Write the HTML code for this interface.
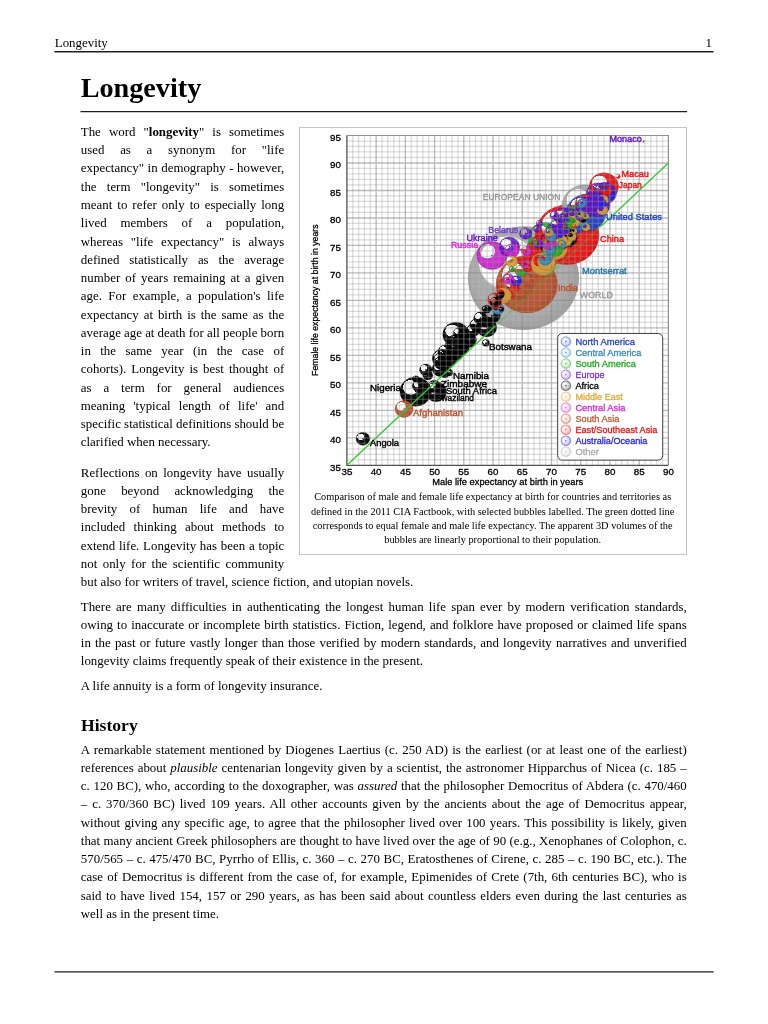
<!DOCTYPE html>
<html><head><meta charset="utf-8"><title>Longevity</title>
<style>
html,body{margin:0;padding:0;background:#fff;}
body{will-change:transform;width:768px;height:1024px;position:relative;overflow:hidden;font-family:"Liberation Serif",serif;color:#000;}
.l{position:absolute;font-size:12.9px;line-height:18.24px;height:18.24px;white-space:nowrap;}
.hdr{position:absolute;font-size:12.9px;line-height:14px;top:36.4px;}
.rule{position:absolute;background:#000;}
h1{position:absolute;margin:0;left:80.7px;top:71.2px;font-size:28.2px;line-height:34px;font-weight:bold;}
h2{position:absolute;margin:0;left:81px;top:715px;font-size:17.6px;line-height:20px;font-weight:bold;}
.fig{position:absolute;left:299px;top:126.5px;width:386.2px;height:426.4px;border:1px solid #c4c4c4;background:#fefefe;box-sizing:content-box;}
.cap{position:absolute;left:299.2px;width:387px;text-align:center;font-size:10.35px;line-height:14px;white-space:nowrap;}
svg text{font-family:"Liberation Sans",sans-serif;}
.tk{font-size:9.4px;fill:#000;stroke:#000;stroke-width:.3px}
.ax{font-size:9.2px;fill:#000;stroke:#000;stroke-width:.28px}
.lb{font-size:9.6px;stroke-width:.4px}
.lg{font-size:9.4px;stroke-width:.3px}
</style></head><body>
<div class="hdr" style="left:54.8px">Longevity</div>
<div class="hdr" style="left:700px;width:12px;text-align:right">1</div>
<svg width="768" height="1024" viewBox="0 0 768 1024" style="position:absolute;left:0;top:0"><g stroke="#202020" fill="none"><path d="M54.4 51.8H713.6" stroke-width="1.4"/><path d="M80.5 111.5H687.1" stroke-width="1.25"/><path d="M54.5 971.9H713.6" stroke-width="1.4"/></g></svg>
<h1>Longevity</h1>
<div class="fig"></div>
<svg width="768" height="1024" viewBox="0 0 768 1024" style="position:absolute;left:0;top:0">
<defs>
<radialGradient id="gNA" cx=".5" cy=".5" r=".5" fx=".2" fy=".2"><stop offset=".485" stop-color="#2244cc" stop-opacity="0"/><stop offset=".515" stop-color="#2244cc" stop-opacity=".93"/><stop offset=".85" stop-color="#2244cc" stop-opacity=".96"/><stop offset="1" stop-color="#1f3fbd" stop-opacity=".98"/></radialGradient>
<radialGradient id="gCA" cx=".5" cy=".5" r=".5" fx=".2" fy=".2"><stop offset=".485" stop-color="#3388bb" stop-opacity="0"/><stop offset=".515" stop-color="#3388bb" stop-opacity=".93"/><stop offset=".85" stop-color="#3388bb" stop-opacity=".96"/><stop offset="1" stop-color="#2f7ead" stop-opacity=".98"/></radialGradient>
<radialGradient id="gSA" cx=".5" cy=".5" r=".5" fx=".2" fy=".2"><stop offset=".485" stop-color="#22aa22" stop-opacity="0"/><stop offset=".515" stop-color="#22aa22" stop-opacity=".93"/><stop offset=".85" stop-color="#22aa22" stop-opacity=".96"/><stop offset="1" stop-color="#1f9e1f" stop-opacity=".98"/></radialGradient>
<radialGradient id="gEU" cx=".5" cy=".5" r=".5" fx=".2" fy=".2"><stop offset=".485" stop-color="#6418d2" stop-opacity="0"/><stop offset=".515" stop-color="#6418d2" stop-opacity=".93"/><stop offset=".85" stop-color="#6418d2" stop-opacity=".96"/><stop offset="1" stop-color="#5d16c3" stop-opacity=".98"/></radialGradient>
<radialGradient id="gAF" cx=".5" cy=".5" r=".5" fx=".2" fy=".2"><stop offset=".485" stop-color="#000000" stop-opacity="0"/><stop offset=".515" stop-color="#000000" stop-opacity=".93"/><stop offset=".85" stop-color="#000000" stop-opacity=".96"/><stop offset="1" stop-color="#000000" stop-opacity=".98"/></radialGradient>
<radialGradient id="gME" cx=".5" cy=".5" r=".5" fx=".2" fy=".2"><stop offset=".485" stop-color="#d9a030" stop-opacity="0"/><stop offset=".515" stop-color="#d9a030" stop-opacity=".93"/><stop offset=".85" stop-color="#d9a030" stop-opacity=".96"/><stop offset="1" stop-color="#c9942c" stop-opacity=".98"/></radialGradient>
<radialGradient id="gCS" cx=".5" cy=".5" r=".5" fx=".2" fy=".2"><stop offset=".485" stop-color="#cf22cf" stop-opacity="0"/><stop offset=".515" stop-color="#cf22cf" stop-opacity=".93"/><stop offset=".85" stop-color="#cf22cf" stop-opacity=".96"/><stop offset="1" stop-color="#c01fc0" stop-opacity=".98"/></radialGradient>
<radialGradient id="gSS" cx=".5" cy=".5" r=".5" fx=".2" fy=".2"><stop offset=".485" stop-color="#bf5028" stop-opacity="0"/><stop offset=".515" stop-color="#bf5028" stop-opacity=".93"/><stop offset=".85" stop-color="#bf5028" stop-opacity=".96"/><stop offset="1" stop-color="#b14a25" stop-opacity=".98"/></radialGradient>
<radialGradient id="gEA" cx=".5" cy=".5" r=".5" fx=".2" fy=".2"><stop offset=".485" stop-color="#f01010" stop-opacity="0"/><stop offset=".515" stop-color="#f01010" stop-opacity=".93"/><stop offset=".85" stop-color="#f01010" stop-opacity=".96"/><stop offset="1" stop-color="#df0e0e" stop-opacity=".98"/></radialGradient>
<radialGradient id="gOC" cx=".5" cy=".5" r=".5" fx=".2" fy=".2"><stop offset=".485" stop-color="#2222ee" stop-opacity="0"/><stop offset=".515" stop-color="#2222ee" stop-opacity=".93"/><stop offset=".85" stop-color="#2222ee" stop-opacity=".96"/><stop offset="1" stop-color="#1f1fdd" stop-opacity=".98"/></radialGradient>
<radialGradient id="gOT" cx=".5" cy=".5" r=".5" fx=".2" fy=".2"><stop offset=".485" stop-color="#aaaaaa" stop-opacity="0"/><stop offset=".515" stop-color="#aaaaaa" stop-opacity=".93"/><stop offset=".85" stop-color="#aaaaaa" stop-opacity=".96"/><stop offset="1" stop-color="#9e9e9e" stop-opacity=".98"/></radialGradient>
<radialGradient id="lNA" cx=".5" cy=".5" r=".5" fx=".3" fy=".3"><stop offset=".3" stop-color="#2244cc" stop-opacity=".04"/><stop offset=".75" stop-color="#2244cc" stop-opacity=".2"/><stop offset="1" stop-color="#2244cc" stop-opacity=".55"/></radialGradient>
<radialGradient id="lCA" cx=".5" cy=".5" r=".5" fx=".3" fy=".3"><stop offset=".3" stop-color="#3388bb" stop-opacity=".04"/><stop offset=".75" stop-color="#3388bb" stop-opacity=".2"/><stop offset="1" stop-color="#3388bb" stop-opacity=".55"/></radialGradient>
<radialGradient id="lSA" cx=".5" cy=".5" r=".5" fx=".3" fy=".3"><stop offset=".3" stop-color="#22aa22" stop-opacity=".04"/><stop offset=".75" stop-color="#22aa22" stop-opacity=".2"/><stop offset="1" stop-color="#22aa22" stop-opacity=".55"/></radialGradient>
<radialGradient id="lEU" cx=".5" cy=".5" r=".5" fx=".3" fy=".3"><stop offset=".3" stop-color="#6418d2" stop-opacity=".04"/><stop offset=".75" stop-color="#6418d2" stop-opacity=".2"/><stop offset="1" stop-color="#6418d2" stop-opacity=".55"/></radialGradient>
<radialGradient id="lAF" cx=".5" cy=".5" r=".5" fx=".3" fy=".3"><stop offset=".3" stop-color="#000000" stop-opacity=".04"/><stop offset=".75" stop-color="#000000" stop-opacity=".2"/><stop offset="1" stop-color="#000000" stop-opacity=".55"/></radialGradient>
<radialGradient id="lME" cx=".5" cy=".5" r=".5" fx=".3" fy=".3"><stop offset=".3" stop-color="#d9a030" stop-opacity=".04"/><stop offset=".75" stop-color="#d9a030" stop-opacity=".2"/><stop offset="1" stop-color="#d9a030" stop-opacity=".55"/></radialGradient>
<radialGradient id="lCS" cx=".5" cy=".5" r=".5" fx=".3" fy=".3"><stop offset=".3" stop-color="#cf22cf" stop-opacity=".04"/><stop offset=".75" stop-color="#cf22cf" stop-opacity=".2"/><stop offset="1" stop-color="#cf22cf" stop-opacity=".55"/></radialGradient>
<radialGradient id="lSS" cx=".5" cy=".5" r=".5" fx=".3" fy=".3"><stop offset=".3" stop-color="#bf5028" stop-opacity=".04"/><stop offset=".75" stop-color="#bf5028" stop-opacity=".2"/><stop offset="1" stop-color="#bf5028" stop-opacity=".55"/></radialGradient>
<radialGradient id="lEA" cx=".5" cy=".5" r=".5" fx=".3" fy=".3"><stop offset=".3" stop-color="#f01010" stop-opacity=".04"/><stop offset=".75" stop-color="#f01010" stop-opacity=".2"/><stop offset="1" stop-color="#f01010" stop-opacity=".55"/></radialGradient>
<radialGradient id="lOC" cx=".5" cy=".5" r=".5" fx=".3" fy=".3"><stop offset=".3" stop-color="#2222ee" stop-opacity=".04"/><stop offset=".75" stop-color="#2222ee" stop-opacity=".2"/><stop offset="1" stop-color="#2222ee" stop-opacity=".55"/></radialGradient>
<radialGradient id="lOT" cx=".5" cy=".5" r=".5" fx=".3" fy=".3"><stop offset=".3" stop-color="#aaaaaa" stop-opacity=".04"/><stop offset=".75" stop-color="#aaaaaa" stop-opacity=".2"/><stop offset="1" stop-color="#aaaaaa" stop-opacity=".55"/></radialGradient>
<clipPath id="pc"><rect x="300" y="127" width="387" height="360"/></clipPath>
</defs>
<rect x="303" y="129.5" width="381.5" height="358" fill="#fff"/>
<filter id="bl" x="-5%" y="-5%" width="110%" height="110%"><feGaussianBlur stdDeviation="0.45"/></filter>
<g clip-path="url(#pc)" filter="url(#bl)">
<ellipse cx="523.5" cy="278.1" rx="55.57" ry="51.97" fill="url(#gOT)"/>
<circle cx="523.5" cy="278.1" r=".75" fill="#555555"/>
<ellipse cx="567.2" cy="234.8" rx="32.11" ry="30.03" fill="url(#gEA)"/>
<circle cx="567.2" cy="234.8" r=".75" fill="#780808"/>
<ellipse cx="526.8" cy="284.2" rx="30.88" ry="28.88" fill="url(#gSS)"/>
<circle cx="526.8" cy="284.2" r=".75" fill="#5f2814"/>
<ellipse cx="585.0" cy="206.3" rx="23.01" ry="21.52" fill="url(#gOT)" stroke="#666666" stroke-opacity=".55" stroke-width=".6"/>
<circle cx="585.0" cy="206.3" r=".75" fill="#555555"/>
<ellipse cx="586.1" cy="212.8" rx="19.79" ry="18.51" fill="url(#gNA)" stroke="#14287a" stroke-opacity=".55" stroke-width=".6"/>
<circle cx="586.1" cy="212.8" r=".75" fill="#112266"/>
<ellipse cx="544.5" cy="251.0" rx="18.25" ry="17.07" fill="url(#gEA)" stroke="#900909" stroke-opacity=".55" stroke-width=".6"/>
<circle cx="544.5" cy="251.0" r=".75" fill="#780808"/>
<ellipse cx="545.5" cy="238.5" rx="17.14" ry="16.03" fill="url(#gSA)" stroke="#146614" stroke-opacity=".55" stroke-width=".6"/>
<circle cx="545.5" cy="238.5" r=".75" fill="#115511"/>
<ellipse cx="517.5" cy="284.5" rx="16.68" ry="15.60" fill="url(#gSS)" stroke="#723018" stroke-opacity=".55" stroke-width=".6"/>
<circle cx="517.5" cy="284.5" r=".75" fill="#5f2814"/>
<ellipse cx="539.4" cy="263.8" rx="15.78" ry="14.76" fill="url(#gSS)" stroke="#723018" stroke-opacity=".55" stroke-width=".6"/>
<circle cx="539.4" cy="263.8" r=".75" fill="#5f2814"/>
<ellipse cx="415.6" cy="391.6" rx="15.67" ry="14.65" fill="url(#gAF)" stroke="#000000" stroke-opacity=".55" stroke-width=".6"/>
<circle cx="415.6" cy="391.6" r=".75" fill="#000000"/>
<ellipse cx="491.9" cy="255.5" rx="15.09" ry="14.11" fill="url(#gCS)" stroke="#7c147c" stroke-opacity=".55" stroke-width=".6"/>
<circle cx="491.9" cy="255.5" r=".75" fill="#671167"/>
<ellipse cx="603.9" cy="186.5" rx="14.63" ry="13.68" fill="url(#gEA)" stroke="#900909" stroke-opacity=".55" stroke-width=".6"/>
<circle cx="603.9" cy="186.5" r=".75" fill="#780808"/>
<ellipse cx="572.8" cy="221.1" rx="14.12" ry="13.21" fill="url(#gNA)" stroke="#14287a" stroke-opacity=".55" stroke-width=".6"/>
<circle cx="572.8" cy="221.1" r=".75" fill="#112266"/>
<ellipse cx="544.0" cy="246.9" rx="13.61" ry="12.73" fill="url(#gEA)" stroke="#900909" stroke-opacity=".55" stroke-width=".6"/>
<circle cx="544.0" cy="246.9" r=".75" fill="#780808"/>
<ellipse cx="455.9" cy="334.4" rx="13.11" ry="12.26" fill="url(#gAF)" stroke="#000000" stroke-opacity=".55" stroke-width=".6"/>
<circle cx="455.9" cy="334.4" r=".75" fill="#000000"/>
<ellipse cx="549.9" cy="245.9" rx="13.09" ry="12.24" fill="url(#gEA)" stroke="#900909" stroke-opacity=".55" stroke-width=".6"/>
<circle cx="549.9" cy="245.9" r=".75" fill="#780808"/>
<ellipse cx="551.9" cy="243.3" rx="12.67" ry="11.85" fill="url(#gAF)" stroke="#000000" stroke-opacity=".55" stroke-width=".6"/>
<circle cx="551.9" cy="243.3" r=".75" fill="#000000"/>
<ellipse cx="597.2" cy="204.5" rx="12.64" ry="11.82" fill="url(#gEU)" stroke="#3c0e7e" stroke-opacity=".55" stroke-width=".6"/>
<circle cx="597.2" cy="204.5" r=".75" fill="#320c69"/>
<ellipse cx="555.1" cy="248.2" rx="12.50" ry="11.69" fill="url(#gME)" stroke="#82601c" stroke-opacity=".55" stroke-width=".6"/>
<circle cx="555.1" cy="248.2" r=".75" fill="#6c5018"/>
<ellipse cx="543.2" cy="264.1" rx="12.45" ry="11.64" fill="url(#gME)" stroke="#82601c" stroke-opacity=".55" stroke-width=".6"/>
<circle cx="543.2" cy="264.1" r=".75" fill="#6c5018"/>
<ellipse cx="457.4" cy="345.5" rx="12.11" ry="11.32" fill="url(#gAF)" stroke="#000000" stroke-opacity=".55" stroke-width=".6"/>
<circle cx="457.4" cy="345.5" r=".75" fill="#000000"/>
<ellipse cx="558.7" cy="239.5" rx="11.82" ry="11.06" fill="url(#gEA)" stroke="#900909" stroke-opacity=".55" stroke-width=".6"/>
<circle cx="558.7" cy="239.5" r=".75" fill="#780808"/>
<ellipse cx="597.7" cy="194.0" rx="11.74" ry="10.98" fill="url(#gEU)" stroke="#3c0e7e" stroke-opacity=".55" stroke-width=".6"/>
<circle cx="597.7" cy="194.0" r=".75" fill="#320c69"/>
<ellipse cx="598.0" cy="205.6" rx="11.58" ry="10.83" fill="url(#gEU)" stroke="#3c0e7e" stroke-opacity=".55" stroke-width=".6"/>
<circle cx="598.0" cy="205.6" r=".75" fill="#320c69"/>
<ellipse cx="605.0" cy="193.1" rx="11.47" ry="10.73" fill="url(#gEU)" stroke="#3c0e7e" stroke-opacity=".55" stroke-width=".6"/>
<circle cx="605.0" cy="193.1" r=".75" fill="#320c69"/>
<ellipse cx="508.1" cy="287.6" rx="11.02" ry="10.30" fill="url(#gEA)" stroke="#900909" stroke-opacity=".55" stroke-width=".6"/>
<circle cx="508.1" cy="287.6" r=".75" fill="#780808"/>
<ellipse cx="436.0" cy="391.7" rx="10.67" ry="9.98" fill="url(#gAF)" stroke="#000000" stroke-opacity=".55" stroke-width=".6"/>
<circle cx="436.0" cy="391.7" r=".75" fill="#000000"/>
<ellipse cx="585.6" cy="204.3" rx="10.65" ry="9.96" fill="url(#gEA)" stroke="#900909" stroke-opacity=".55" stroke-width=".6"/>
<circle cx="585.6" cy="204.3" r=".75" fill="#780808"/>
<ellipse cx="599.2" cy="193.9" rx="10.50" ry="9.82" fill="url(#gEU)" stroke="#3c0e7e" stroke-opacity=".55" stroke-width=".6"/>
<circle cx="599.2" cy="193.9" r=".75" fill="#320c69"/>
<ellipse cx="509.3" cy="246.8" rx="10.38" ry="9.70" fill="url(#gEU)" stroke="#3c0e7e" stroke-opacity=".55" stroke-width=".6"/>
<circle cx="509.3" cy="246.8" r=".75" fill="#320c69"/>
<ellipse cx="459.0" cy="346.0" rx="10.37" ry="9.70" fill="url(#gAF)" stroke="#000000" stroke-opacity=".55" stroke-width=".6"/>
<circle cx="459.0" cy="346.0" r=".75" fill="#000000"/>
<ellipse cx="558.9" cy="228.8" rx="10.35" ry="9.67" fill="url(#gSA)" stroke="#146614" stroke-opacity=".55" stroke-width=".6"/>
<circle cx="558.9" cy="228.8" r=".75" fill="#115511"/>
<ellipse cx="442.4" cy="358.6" rx="10.19" ry="9.53" fill="url(#gAF)" stroke="#000000" stroke-opacity=".55" stroke-width=".6"/>
<circle cx="442.4" cy="358.6" r=".75" fill="#000000"/>
<ellipse cx="573.2" cy="216.0" rx="10.12" ry="9.46" fill="url(#gSA)" stroke="#146614" stroke-opacity=".55" stroke-width=".6"/>
<circle cx="573.2" cy="216.0" r=".75" fill="#115511"/>
<ellipse cx="486.7" cy="327.5" rx="10.06" ry="9.41" fill="url(#gAF)" stroke="#000000" stroke-opacity=".55" stroke-width=".6"/>
<circle cx="486.7" cy="327.5" r=".75" fill="#000000"/>
<ellipse cx="563.8" cy="216.6" rx="9.83" ry="9.20" fill="url(#gEU)" stroke="#3c0e7e" stroke-opacity=".55" stroke-width=".6"/>
<circle cx="563.8" cy="216.6" r=".75" fill="#320c69"/>
<ellipse cx="567.7" cy="238.2" rx="9.54" ry="8.92" fill="url(#gAF)" stroke="#000000" stroke-opacity=".55" stroke-width=".6"/>
<circle cx="567.7" cy="238.2" r=".75" fill="#000000"/>
<ellipse cx="447.3" cy="359.0" rx="9.50" ry="8.88" fill="url(#gAF)" stroke="#000000" stroke-opacity=".55" stroke-width=".6"/>
<circle cx="447.3" cy="359.0" r=".75" fill="#000000"/>
<ellipse cx="603.0" cy="195.4" rx="9.44" ry="8.83" fill="url(#gNA)" stroke="#14287a" stroke-opacity=".55" stroke-width=".6"/>
<circle cx="603.0" cy="195.4" r=".75" fill="#112266"/>
<ellipse cx="568.1" cy="222.8" rx="9.25" ry="8.65" fill="url(#gAF)" stroke="#000000" stroke-opacity=".55" stroke-width=".6"/>
<circle cx="568.1" cy="222.8" r=".75" fill="#000000"/>
<ellipse cx="546.5" cy="261.8" rx="9.10" ry="8.51" fill="url(#gME)" stroke="#82601c" stroke-opacity=".55" stroke-width=".6"/>
<circle cx="546.5" cy="261.8" r=".75" fill="#6c5018"/>
<ellipse cx="404.1" cy="409.0" rx="9.04" ry="8.45" fill="url(#gSS)" stroke="#723018" stroke-opacity=".55" stroke-width=".6"/>
<circle cx="404.1" cy="409.0" r=".75" fill="#5f2814"/>
<ellipse cx="520.0" cy="289.1" rx="9.00" ry="8.41" fill="url(#gSS)" stroke="#723018" stroke-opacity=".55" stroke-width=".6"/>
<circle cx="520.0" cy="289.1" r=".75" fill="#5f2814"/>
<ellipse cx="554.7" cy="248.3" rx="8.98" ry="8.39" fill="url(#gSA)" stroke="#146614" stroke-opacity=".55" stroke-width=".6"/>
<circle cx="554.7" cy="248.3" r=".75" fill="#115511"/>
<ellipse cx="557.6" cy="235.9" rx="8.92" ry="8.35" fill="url(#gEA)" stroke="#900909" stroke-opacity=".55" stroke-width=".6"/>
<circle cx="557.6" cy="235.9" r=".75" fill="#780808"/>
<ellipse cx="548.5" cy="241.5" rx="8.86" ry="8.29" fill="url(#gCS)" stroke="#7c147c" stroke-opacity=".55" stroke-width=".6"/>
<circle cx="548.5" cy="241.5" r=".75" fill="#671167"/>
<ellipse cx="556.4" cy="233.5" rx="8.81" ry="8.24" fill="url(#gSA)" stroke="#146614" stroke-opacity=".55" stroke-width=".6"/>
<circle cx="556.4" cy="233.5" r=".75" fill="#115511"/>
<ellipse cx="564.1" cy="239.1" rx="8.65" ry="8.09" fill="url(#gME)" stroke="#82601c" stroke-opacity=".55" stroke-width=".6"/>
<circle cx="564.1" cy="239.1" r=".75" fill="#6c5018"/>
<ellipse cx="491.8" cy="315.5" rx="8.50" ry="7.95" fill="url(#gAF)" stroke="#000000" stroke-opacity=".55" stroke-width=".6"/>
<circle cx="491.8" cy="315.5" r=".75" fill="#000000"/>
<ellipse cx="522.4" cy="256.8" rx="8.47" ry="7.92" fill="url(#gEA)" stroke="#900909" stroke-opacity=".55" stroke-width=".6"/>
<circle cx="522.4" cy="256.8" r=".75" fill="#780808"/>
<ellipse cx="503.0" cy="295.6" rx="8.42" ry="7.87" fill="url(#gME)" stroke="#82601c" stroke-opacity=".55" stroke-width=".6"/>
<circle cx="503.0" cy="295.6" r=".75" fill="#6c5018"/>
<ellipse cx="583.6" cy="210.5" rx="8.30" ry="7.76" fill="url(#gEA)" stroke="#900909" stroke-opacity=".55" stroke-width=".6"/>
<circle cx="583.6" cy="210.5" r=".75" fill="#780808"/>
<ellipse cx="440.5" cy="368.7" rx="8.28" ry="7.74" fill="url(#gAF)" stroke="#000000" stroke-opacity=".55" stroke-width=".6"/>
<circle cx="440.5" cy="368.7" r=".75" fill="#000000"/>
<ellipse cx="565.0" cy="233.3" rx="8.23" ry="7.70" fill="url(#gME)" stroke="#82601c" stroke-opacity=".55" stroke-width=".6"/>
<circle cx="565.0" cy="233.3" r=".75" fill="#6c5018"/>
<ellipse cx="553.0" cy="232.0" rx="8.16" ry="7.63" fill="url(#gEU)" stroke="#3c0e7e" stroke-opacity=".55" stroke-width=".6"/>
<circle cx="553.0" cy="232.0" r=".75" fill="#320c69"/>
<ellipse cx="606.4" cy="194.0" rx="8.14" ry="7.62" fill="url(#gOC)" stroke="#14148e" stroke-opacity=".55" stroke-width=".6"/>
<circle cx="606.4" cy="194.0" r=".75" fill="#111177"/>
<ellipse cx="468.4" cy="339.9" rx="8.11" ry="7.58" fill="url(#gAF)" stroke="#000000" stroke-opacity=".55" stroke-width=".6"/>
<circle cx="468.4" cy="339.9" r=".75" fill="#000000"/>
<ellipse cx="564.4" cy="221.4" rx="8.08" ry="7.56" fill="url(#gSS)" stroke="#723018" stroke-opacity=".55" stroke-width=".6"/>
<circle cx="564.4" cy="221.4" r=".75" fill="#5f2814"/>
<ellipse cx="455.2" cy="353.8" rx="7.87" ry="7.36" fill="url(#gAF)" stroke="#000000" stroke-opacity=".55" stroke-width=".6"/>
<circle cx="455.2" cy="353.8" r=".75" fill="#000000"/>
<ellipse cx="577.4" cy="211.7" rx="7.48" ry="7.00" fill="url(#gSA)" stroke="#146614" stroke-opacity=".55" stroke-width=".6"/>
<circle cx="577.4" cy="211.7" r=".75" fill="#115511"/>
<ellipse cx="592.8" cy="204.5" rx="7.47" ry="6.98" fill="url(#gEU)" stroke="#3c0e7e" stroke-opacity=".55" stroke-width=".6"/>
<circle cx="592.8" cy="204.5" r=".75" fill="#320c69"/>
<ellipse cx="445.3" cy="351.9" rx="7.46" ry="6.97" fill="url(#gAF)" stroke="#000000" stroke-opacity=".55" stroke-width=".6"/>
<circle cx="445.3" cy="351.9" r=".75" fill="#000000"/>
<ellipse cx="447.0" cy="356.9" rx="7.42" ry="6.94" fill="url(#gAF)" stroke="#000000" stroke-opacity=".55" stroke-width=".6"/>
<circle cx="447.0" cy="356.9" r=".75" fill="#000000"/>
<ellipse cx="440.0" cy="369.2" rx="7.33" ry="6.85" fill="url(#gAF)" stroke="#000000" stroke-opacity=".55" stroke-width=".6"/>
<circle cx="440.0" cy="369.2" r=".75" fill="#000000"/>
<ellipse cx="512.0" cy="250.5" rx="7.27" ry="6.80" fill="url(#gCS)" stroke="#7c147c" stroke-opacity=".55" stroke-width=".6"/>
<circle cx="512.0" cy="250.5" r=".75" fill="#671167"/>
<ellipse cx="566.6" cy="225.6" rx="7.19" ry="6.72" fill="url(#gSA)" stroke="#146614" stroke-opacity=".55" stroke-width=".6"/>
<circle cx="566.6" cy="225.6" r=".75" fill="#115511"/>
<ellipse cx="494.8" cy="299.7" rx="7.14" ry="6.68" fill="url(#gEA)" stroke="#900909" stroke-opacity=".55" stroke-width=".6"/>
<circle cx="494.8" cy="299.7" r=".75" fill="#780808"/>
<ellipse cx="440.5" cy="359.4" rx="7.06" ry="6.60" fill="url(#gAF)" stroke="#000000" stroke-opacity=".55" stroke-width=".6"/>
<circle cx="440.5" cy="359.4" r=".75" fill="#000000"/>
<ellipse cx="441.2" cy="362.9" rx="7.01" ry="6.55" fill="url(#gAF)" stroke="#000000" stroke-opacity=".55" stroke-width=".6"/>
<circle cx="441.2" cy="362.9" r=".75" fill="#000000"/>
<ellipse cx="545.8" cy="257.4" rx="6.99" ry="6.54" fill="url(#gCA)" stroke="#1e5170" stroke-opacity=".55" stroke-width=".6"/>
<circle cx="545.8" cy="257.4" r=".75" fill="#19445d"/>
<ellipse cx="362.9" cy="438.8" rx="6.91" ry="6.46" fill="url(#gAF)" stroke="#000000" stroke-opacity=".55" stroke-width=".6"/>
<circle cx="362.9" cy="438.8" r=".75" fill="#000000"/>
<ellipse cx="480.5" cy="318.2" rx="6.78" ry="6.34" fill="url(#gAF)" stroke="#000000" stroke-opacity=".55" stroke-width=".6"/>
<circle cx="480.5" cy="318.2" r=".75" fill="#000000"/>
<ellipse cx="434.2" cy="386.5" rx="6.69" ry="6.25" fill="url(#gAF)" stroke="#000000" stroke-opacity=".55" stroke-width=".6"/>
<circle cx="434.2" cy="386.5" r=".75" fill="#000000"/>
<ellipse cx="473.0" cy="330.5" rx="6.55" ry="6.13" fill="url(#gAF)" stroke="#000000" stroke-opacity=".55" stroke-width=".6"/>
<circle cx="473.0" cy="330.5" r=".75" fill="#000000"/>
<ellipse cx="583.4" cy="217.5" rx="6.50" ry="6.08" fill="url(#gCA)" stroke="#1e5170" stroke-opacity=".55" stroke-width=".6"/>
<circle cx="583.4" cy="217.5" r=".75" fill="#19445d"/>
<ellipse cx="594.5" cy="203.4" rx="6.44" ry="6.02" fill="url(#gEU)" stroke="#3c0e7e" stroke-opacity=".55" stroke-width=".6"/>
<circle cx="594.5" cy="203.4" r=".75" fill="#320c69"/>
<ellipse cx="582.4" cy="207.2" rx="6.44" ry="6.02" fill="url(#gEU)" stroke="#3c0e7e" stroke-opacity=".55" stroke-width=".6"/>
<circle cx="582.4" cy="207.2" r=".75" fill="#320c69"/>
<ellipse cx="418.7" cy="386.0" rx="6.44" ry="6.02" fill="url(#gAF)" stroke="#000000" stroke-opacity=".55" stroke-width=".6"/>
<circle cx="418.7" cy="386.0" r=".75" fill="#000000"/>
<ellipse cx="569.0" cy="233.5" rx="6.40" ry="5.99" fill="url(#gAF)" stroke="#000000" stroke-opacity=".55" stroke-width=".6"/>
<circle cx="569.0" cy="233.5" r=".75" fill="#000000"/>
<ellipse cx="473.3" cy="329.9" rx="6.40" ry="5.99" fill="url(#gAF)" stroke="#000000" stroke-opacity=".55" stroke-width=".6"/>
<circle cx="473.3" cy="329.9" r=".75" fill="#000000"/>
<ellipse cx="587.8" cy="203.2" rx="6.36" ry="5.95" fill="url(#gEU)" stroke="#3c0e7e" stroke-opacity=".55" stroke-width=".6"/>
<circle cx="587.8" cy="203.2" r=".75" fill="#320c69"/>
<ellipse cx="476.0" cy="325.0" rx="6.32" ry="5.91" fill="url(#gAF)" stroke="#000000" stroke-opacity=".55" stroke-width=".6"/>
<circle cx="476.0" cy="325.0" r=".75" fill="#000000"/>
<ellipse cx="573.4" cy="215.3" rx="6.32" ry="5.91" fill="url(#gEU)" stroke="#3c0e7e" stroke-opacity=".55" stroke-width=".6"/>
<circle cx="573.4" cy="215.3" r=".75" fill="#320c69"/>
<ellipse cx="521.3" cy="270.6" rx="6.30" ry="5.89" fill="url(#gSA)" stroke="#146614" stroke-opacity=".55" stroke-width=".6"/>
<circle cx="521.3" cy="270.6" r=".75" fill="#115511"/>
<ellipse cx="557.2" cy="224.5" rx="6.28" ry="5.87" fill="url(#gEU)" stroke="#3c0e7e" stroke-opacity=".55" stroke-width=".6"/>
<circle cx="557.2" cy="224.5" r=".75" fill="#320c69"/>
<ellipse cx="581.7" cy="220.4" rx="6.27" ry="5.87" fill="url(#gCA)" stroke="#1e5170" stroke-opacity=".55" stroke-width=".6"/>
<circle cx="581.7" cy="220.4" r=".75" fill="#19445d"/>
<ellipse cx="425.8" cy="369.8" rx="6.27" ry="5.86" fill="url(#gAF)" stroke="#000000" stroke-opacity=".55" stroke-width=".6"/>
<circle cx="425.8" cy="369.8" r=".75" fill="#000000"/>
<ellipse cx="497.7" cy="308.6" rx="6.22" ry="5.82" fill="url(#gCA)" stroke="#1e5170" stroke-opacity=".55" stroke-width=".6"/>
<circle cx="497.7" cy="308.6" r=".75" fill="#19445d"/>
<ellipse cx="525.6" cy="233.5" rx="6.19" ry="5.79" fill="url(#gEU)" stroke="#3c0e7e" stroke-opacity=".55" stroke-width=".6"/>
<circle cx="525.6" cy="233.5" r=".75" fill="#320c69"/>
<ellipse cx="484.9" cy="321.6" rx="6.14" ry="5.74" fill="url(#gAF)" stroke="#000000" stroke-opacity=".55" stroke-width=".6"/>
<circle cx="484.9" cy="321.6" r=".75" fill="#000000"/>
<ellipse cx="602.8" cy="198.7" rx="6.09" ry="5.69" fill="url(#gEU)" stroke="#3c0e7e" stroke-opacity=".55" stroke-width=".6"/>
<circle cx="602.8" cy="198.7" r=".75" fill="#320c69"/>
<ellipse cx="511.7" cy="261.4" rx="5.92" ry="5.53" fill="url(#gME)" stroke="#82601c" stroke-opacity=".55" stroke-width=".6"/>
<circle cx="511.7" cy="261.4" r=".75" fill="#6c5018"/>
<ellipse cx="591.6" cy="202.3" rx="5.88" ry="5.50" fill="url(#gEU)" stroke="#3c0e7e" stroke-opacity=".55" stroke-width=".6"/>
<circle cx="591.6" cy="202.3" r=".75" fill="#320c69"/>
<ellipse cx="545.2" cy="259.9" rx="5.86" ry="5.48" fill="url(#gCA)" stroke="#1e5170" stroke-opacity=".55" stroke-width=".6"/>
<circle cx="545.2" cy="259.9" r=".75" fill="#19445d"/>
<ellipse cx="599.7" cy="195.7" rx="5.74" ry="5.37" fill="url(#gEU)" stroke="#3c0e7e" stroke-opacity=".55" stroke-width=".6"/>
<circle cx="599.7" cy="195.7" r=".75" fill="#320c69"/>
<ellipse cx="508.4" cy="279.0" rx="5.74" ry="5.37" fill="url(#gCS)" stroke="#7c147c" stroke-opacity=".55" stroke-width=".6"/>
<circle cx="508.4" cy="279.0" r=".75" fill="#671167"/>
<ellipse cx="602.9" cy="200.1" rx="5.70" ry="5.33" fill="url(#gME)" stroke="#82601c" stroke-opacity=".55" stroke-width=".6"/>
<circle cx="602.9" cy="200.1" r=".75" fill="#6c5018"/>
<ellipse cx="560.2" cy="232.6" rx="5.66" ry="5.29" fill="url(#gEU)" stroke="#3c0e7e" stroke-opacity=".55" stroke-width=".6"/>
<circle cx="560.2" cy="232.6" r=".75" fill="#320c69"/>
<ellipse cx="606.0" cy="190.6" rx="5.61" ry="5.24" fill="url(#gEA)" stroke="#900909" stroke-opacity=".55" stroke-width=".6"/>
<circle cx="606.0" cy="190.6" r=".75" fill="#780808"/>
<ellipse cx="551.4" cy="232.2" rx="5.60" ry="5.24" fill="url(#gEU)" stroke="#3c0e7e" stroke-opacity=".55" stroke-width=".6"/>
<circle cx="551.4" cy="232.2" r=".75" fill="#320c69"/>
<ellipse cx="582.7" cy="217.5" rx="5.47" ry="5.11" fill="url(#gAF)" stroke="#000000" stroke-opacity=".55" stroke-width=".6"/>
<circle cx="582.7" cy="217.5" r=".75" fill="#000000"/>
<ellipse cx="602.5" cy="210.0" rx="5.44" ry="5.09" fill="url(#gME)" stroke="#82601c" stroke-opacity=".55" stroke-width=".6"/>
<circle cx="602.5" cy="210.0" r=".75" fill="#6c5018"/>
<ellipse cx="496.0" cy="303.9" rx="5.43" ry="5.08" fill="url(#gEA)" stroke="#900909" stroke-opacity=".55" stroke-width=".6"/>
<circle cx="496.0" cy="303.9" r=".75" fill="#780808"/>
<ellipse cx="572.5" cy="224.1" rx="5.43" ry="5.08" fill="url(#gSA)" stroke="#146614" stroke-opacity=".55" stroke-width=".6"/>
<circle cx="572.5" cy="224.1" r=".75" fill="#115511"/>
<ellipse cx="516.5" cy="280.8" rx="5.35" ry="5.01" fill="url(#gOC)" stroke="#14148e" stroke-opacity=".55" stroke-width=".6"/>
<circle cx="516.5" cy="280.8" r=".75" fill="#111177"/>
<ellipse cx="551.0" cy="236.5" rx="5.32" ry="4.97" fill="url(#gCA)" stroke="#1e5170" stroke-opacity=".55" stroke-width=".6"/>
<circle cx="551.0" cy="236.5" r=".75" fill="#19445d"/>
<ellipse cx="495.4" cy="302.0" rx="5.28" ry="4.94" fill="url(#gAF)" stroke="#000000" stroke-opacity=".55" stroke-width=".6"/>
<circle cx="495.4" cy="302.0" r=".75" fill="#000000"/>
<ellipse cx="550.4" cy="249.8" rx="5.20" ry="4.86" fill="url(#gCA)" stroke="#1e5170" stroke-opacity=".55" stroke-width=".6"/>
<circle cx="550.4" cy="249.8" r=".75" fill="#19445d"/>
<ellipse cx="526.6" cy="251.3" rx="5.17" ry="4.84" fill="url(#gCS)" stroke="#7c147c" stroke-opacity=".55" stroke-width=".6"/>
<circle cx="526.6" cy="251.3" r=".75" fill="#671167"/>
<ellipse cx="588.0" cy="211.7" rx="5.15" ry="4.82" fill="url(#gEU)" stroke="#3c0e7e" stroke-opacity=".55" stroke-width=".6"/>
<circle cx="588.0" cy="211.7" r=".75" fill="#320c69"/>
<ellipse cx="562.7" cy="218.3" rx="5.14" ry="4.81" fill="url(#gEU)" stroke="#3c0e7e" stroke-opacity=".55" stroke-width=".6"/>
<circle cx="562.7" cy="218.3" r=".75" fill="#320c69"/>
<ellipse cx="458.4" cy="332.8" rx="5.10" ry="4.77" fill="url(#gAF)" stroke="#000000" stroke-opacity=".55" stroke-width=".6"/>
<circle cx="458.4" cy="332.8" r=".75" fill="#000000"/>
<ellipse cx="585.3" cy="202.1" rx="5.07" ry="4.74" fill="url(#gEU)" stroke="#3c0e7e" stroke-opacity=".55" stroke-width=".6"/>
<circle cx="585.3" cy="202.1" r=".75" fill="#320c69"/>
<ellipse cx="574.7" cy="222.3" rx="5.03" ry="4.71" fill="url(#gME)" stroke="#82601c" stroke-opacity=".55" stroke-width=".6"/>
<circle cx="574.7" cy="222.3" r=".75" fill="#6c5018"/>
<ellipse cx="525.6" cy="264.0" rx="4.98" ry="4.66" fill="url(#gCS)" stroke="#7c147c" stroke-opacity=".55" stroke-width=".6"/>
<circle cx="525.6" cy="264.0" r=".75" fill="#671167"/>
<ellipse cx="427.8" cy="375.4" rx="4.97" ry="4.65" fill="url(#gAF)" stroke="#000000" stroke-opacity=".55" stroke-width=".6"/>
<circle cx="427.8" cy="375.4" r=".75" fill="#000000"/>
<ellipse cx="607.2" cy="190.7" rx="4.90" ry="4.58" fill="url(#gEA)" stroke="#900909" stroke-opacity=".55" stroke-width=".6"/>
<circle cx="607.2" cy="190.7" r=".75" fill="#780808"/>
<ellipse cx="595.5" cy="201.4" rx="4.88" ry="4.56" fill="url(#gEU)" stroke="#3c0e7e" stroke-opacity=".55" stroke-width=".6"/>
<circle cx="595.5" cy="201.4" r=".75" fill="#320c69"/>
<ellipse cx="598.0" cy="203.7" rx="4.87" ry="4.56" fill="url(#gEU)" stroke="#3c0e7e" stroke-opacity=".55" stroke-width=".6"/>
<circle cx="598.0" cy="203.7" r=".75" fill="#320c69"/>
<ellipse cx="582.5" cy="203.7" rx="4.85" ry="4.54" fill="url(#gEU)" stroke="#3c0e7e" stroke-opacity=".55" stroke-width=".6"/>
<circle cx="582.5" cy="203.7" r=".75" fill="#320c69"/>
<ellipse cx="573.2" cy="214.5" rx="4.84" ry="4.53" fill="url(#gME)" stroke="#82601c" stroke-opacity=".55" stroke-width=".6"/>
<circle cx="573.2" cy="214.5" r=".75" fill="#6c5018"/>
<ellipse cx="581.3" cy="215.2" rx="4.84" ry="4.53" fill="url(#gCA)" stroke="#1e5170" stroke-opacity=".55" stroke-width=".6"/>
<circle cx="581.3" cy="215.2" r=".75" fill="#19445d"/>
<ellipse cx="564.2" cy="220.1" rx="4.81" ry="4.49" fill="url(#gEU)" stroke="#3c0e7e" stroke-opacity=".55" stroke-width=".6"/>
<circle cx="564.2" cy="220.1" r=".75" fill="#320c69"/>
<ellipse cx="538.0" cy="243.9" rx="4.74" ry="4.44" fill="url(#gEU)" stroke="#3c0e7e" stroke-opacity=".55" stroke-width=".6"/>
<circle cx="538.0" cy="243.9" r=".75" fill="#320c69"/>
<ellipse cx="601.8" cy="203.3" rx="4.74" ry="4.43" fill="url(#gOC)" stroke="#14148e" stroke-opacity=".55" stroke-width=".6"/>
<circle cx="601.8" cy="203.3" r=".75" fill="#111177"/>
<ellipse cx="455.7" cy="348.5" rx="4.72" ry="4.41" fill="url(#gAF)" stroke="#000000" stroke-opacity=".55" stroke-width=".6"/>
<circle cx="455.7" cy="348.5" r=".75" fill="#000000"/>
<ellipse cx="571.8" cy="236.5" rx="4.68" ry="4.38" fill="url(#gME)" stroke="#82601c" stroke-opacity=".55" stroke-width=".6"/>
<circle cx="571.8" cy="236.5" r=".75" fill="#6c5018"/>
<ellipse cx="581.9" cy="203.1" rx="4.62" ry="4.32" fill="url(#gCA)" stroke="#1e5170" stroke-opacity=".55" stroke-width=".6"/>
<circle cx="581.9" cy="203.1" r=".75" fill="#19445d"/>
<ellipse cx="466.4" cy="335.6" rx="4.54" ry="4.25" fill="url(#gAF)" stroke="#000000" stroke-opacity=".55" stroke-width=".6"/>
<circle cx="466.4" cy="335.6" r=".75" fill="#000000"/>
<ellipse cx="554.4" cy="215.4" rx="4.44" ry="4.15" fill="url(#gEU)" stroke="#3c0e7e" stroke-opacity=".55" stroke-width=".6"/>
<circle cx="554.4" cy="215.4" r=".75" fill="#320c69"/>
<ellipse cx="580.7" cy="214.1" rx="4.41" ry="4.12" fill="url(#gCA)" stroke="#1e5170" stroke-opacity=".55" stroke-width=".6"/>
<circle cx="580.7" cy="214.1" r=".75" fill="#19445d"/>
<ellipse cx="569.4" cy="220.9" rx="4.34" ry="4.06" fill="url(#gSA)" stroke="#146614" stroke-opacity=".55" stroke-width=".6"/>
<circle cx="569.4" cy="220.9" r=".75" fill="#115511"/>
<ellipse cx="486.8" cy="309.1" rx="4.33" ry="4.05" fill="url(#gAF)" stroke="#000000" stroke-opacity=".55" stroke-width=".6"/>
<circle cx="486.8" cy="309.1" r=".75" fill="#000000"/>
<ellipse cx="527.2" cy="267.9" rx="4.26" ry="3.99" fill="url(#gEA)" stroke="#900909" stroke-opacity=".55" stroke-width=".6"/>
<circle cx="527.2" cy="267.9" r=".75" fill="#780808"/>
<ellipse cx="563.2" cy="239.9" rx="4.22" ry="3.94" fill="url(#gME)" stroke="#82601c" stroke-opacity=".55" stroke-width=".6"/>
<circle cx="563.2" cy="239.9" r=".75" fill="#6c5018"/>
<ellipse cx="579.7" cy="216.3" rx="4.20" ry="3.93" fill="url(#gEU)" stroke="#3c0e7e" stroke-opacity=".55" stroke-width=".6"/>
<circle cx="579.7" cy="216.3" r=".75" fill="#320c69"/>
<ellipse cx="549.1" cy="232.7" rx="4.19" ry="3.92" fill="url(#gME)" stroke="#82601c" stroke-opacity=".55" stroke-width=".6"/>
<circle cx="549.1" cy="232.7" r=".75" fill="#6c5018"/>
<ellipse cx="561.9" cy="244.3" rx="4.14" ry="3.87" fill="url(#gCA)" stroke="#1e5170" stroke-opacity=".55" stroke-width=".6"/>
<circle cx="561.9" cy="244.3" r=".75" fill="#19445d"/>
<ellipse cx="586.0" cy="227.3" rx="4.01" ry="3.75" fill="url(#gME)" stroke="#82601c" stroke-opacity=".55" stroke-width=".6"/>
<circle cx="586.0" cy="227.3" r=".75" fill="#6c5018"/>
<ellipse cx="537.2" cy="228.6" rx="3.79" ry="3.55" fill="url(#gEU)" stroke="#3c0e7e" stroke-opacity=".55" stroke-width=".6"/>
<circle cx="537.2" cy="228.6" r=".75" fill="#320c69"/>
<ellipse cx="449.0" cy="372.6" rx="3.76" ry="3.52" fill="url(#gAF)" stroke="#000000" stroke-opacity=".55" stroke-width=".6"/>
<circle cx="449.0" cy="372.6" r=".75" fill="#000000"/>
<ellipse cx="566.1" cy="230.6" rx="3.72" ry="3.48" fill="url(#gEU)" stroke="#3c0e7e" stroke-opacity=".55" stroke-width=".6"/>
<circle cx="566.1" cy="230.6" r=".75" fill="#320c69"/>
<ellipse cx="485.9" cy="342.9" rx="3.72" ry="3.47" fill="url(#gAF)" stroke="#000000" stroke-opacity=".55" stroke-width=".6"/>
<circle cx="485.9" cy="342.9" r=".75" fill="#000000"/>
<ellipse cx="572.0" cy="212.5" rx="3.67" ry="3.43" fill="url(#gEU)" stroke="#3c0e7e" stroke-opacity=".55" stroke-width=".6"/>
<circle cx="572.0" cy="212.5" r=".75" fill="#320c69"/>
<ellipse cx="444.9" cy="374.6" rx="3.62" ry="3.39" fill="url(#gAF)" stroke="#000000" stroke-opacity=".55" stroke-width=".6"/>
<circle cx="444.9" cy="374.6" r=".75" fill="#000000"/>
<ellipse cx="500.1" cy="295.5" rx="3.55" ry="3.32" fill="url(#gAF)" stroke="#000000" stroke-opacity=".55" stroke-width=".6"/>
<circle cx="500.1" cy="295.5" r=".75" fill="#000000"/>
<ellipse cx="415.9" cy="379.0" rx="3.41" ry="3.19" fill="url(#gAF)" stroke="#000000" stroke-opacity=".55" stroke-width=".6"/>
<circle cx="415.9" cy="379.0" r=".75" fill="#000000"/>
<ellipse cx="444.5" cy="364.7" rx="3.40" ry="3.18" fill="url(#gAF)" stroke="#000000" stroke-opacity=".55" stroke-width=".6"/>
<circle cx="444.5" cy="364.7" r=".75" fill="#000000"/>
<ellipse cx="428.3" cy="391.7" rx="3.24" ry="3.03" fill="url(#gAF)" stroke="#000000" stroke-opacity=".55" stroke-width=".6"/>
<circle cx="428.3" cy="391.7" r=".75" fill="#000000"/>
<ellipse cx="539.5" cy="223.3" rx="3.17" ry="2.96" fill="url(#gEU)" stroke="#3c0e7e" stroke-opacity=".55" stroke-width=".6"/>
<circle cx="539.5" cy="223.3" r=".75" fill="#320c69"/>
<ellipse cx="586.0" cy="216.3" rx="3.10" ry="2.90" fill="url(#gME)" stroke="#82601c" stroke-opacity=".55" stroke-width=".6"/>
<circle cx="586.0" cy="216.3" r=".75" fill="#6c5018"/>
<ellipse cx="580.7" cy="214.7" rx="3.03" ry="2.83" fill="url(#gME)" stroke="#82601c" stroke-opacity=".55" stroke-width=".6"/>
<circle cx="580.7" cy="214.7" r=".75" fill="#6c5018"/>
<ellipse cx="574.3" cy="231.1" rx="2.76" ry="2.58" fill="url(#gME)" stroke="#82601c" stroke-opacity=".55" stroke-width=".6"/>
<circle cx="574.3" cy="231.1" r=".75" fill="#6c5018"/>
<ellipse cx="501.8" cy="294.4" rx="2.71" ry="2.53" fill="url(#gAF)" stroke="#000000" stroke-opacity=".55" stroke-width=".6"/>
<circle cx="501.8" cy="294.4" r=".75" fill="#000000"/>
<ellipse cx="484.9" cy="308.6" rx="2.66" ry="2.49" fill="url(#gAF)" stroke="#000000" stroke-opacity=".55" stroke-width=".6"/>
<circle cx="484.9" cy="308.6" r=".75" fill="#000000"/>
<ellipse cx="511.7" cy="269.1" rx="2.65" ry="2.48" fill="url(#gSA)" stroke="#146614" stroke-opacity=".55" stroke-width=".6"/>
<circle cx="511.7" cy="269.1" r=".75" fill="#115511"/>
<ellipse cx="528.1" cy="285.0" rx="2.60" ry="2.43" fill="url(#gSS)" stroke="#723018" stroke-opacity=".55" stroke-width=".6"/>
<circle cx="528.1" cy="285.0" r=".75" fill="#5f2814"/>
<ellipse cx="501.4" cy="309.5" rx="2.55" ry="2.39" fill="url(#gAF)" stroke="#000000" stroke-opacity=".55" stroke-width=".6"/>
<circle cx="501.4" cy="309.5" r=".75" fill="#000000"/>
<ellipse cx="618.1" cy="176.5" rx="2.42" ry="2.26" fill="url(#gEA)"/>
<ellipse cx="560.8" cy="235.0" rx="2.42" ry="2.26" fill="url(#gOC)"/>
<ellipse cx="588.9" cy="200.9" rx="2.31" ry="2.16" fill="url(#gEU)"/>
<ellipse cx="594.7" cy="206.4" rx="2.17" ry="2.03" fill="url(#gEU)"/>
<ellipse cx="574.3" cy="226.2" rx="2.15" ry="2.01" fill="url(#gEA)"/>
<ellipse cx="602.3" cy="200.4" rx="1.97" ry="1.84" fill="url(#gEU)"/>
<ellipse cx="643.7" cy="141.5" rx="1.00" ry="1.00" fill="#6418d2"/>
<ellipse cx="557.3" cy="244.3" rx="1.00" ry="1.00" fill="#3388bb"/>
</g>
<path d="M352.75 135.5 V465.3 M358.59 135.5 V465.3 M364.44 135.5 V465.3 M370.28 135.5 V465.3 M381.97 135.5 V465.3 M387.82 135.5 V465.3 M393.66 135.5 V465.3 M399.51 135.5 V465.3 M411.20 135.5 V465.3 M417.05 135.5 V465.3 M422.89 135.5 V465.3 M428.74 135.5 V465.3 M440.43 135.5 V465.3 M446.27 135.5 V465.3 M452.12 135.5 V465.3 M457.96 135.5 V465.3 M469.65 135.5 V465.3 M475.50 135.5 V465.3 M481.35 135.5 V465.3 M487.19 135.5 V465.3 M498.88 135.5 V465.3 M504.73 135.5 V465.3 M510.57 135.5 V465.3 M516.42 135.5 V465.3 M528.11 135.5 V465.3 M533.95 135.5 V465.3 M539.80 135.5 V465.3 M545.65 135.5 V465.3 M557.34 135.5 V465.3 M563.18 135.5 V465.3 M569.03 135.5 V465.3 M574.87 135.5 V465.3 M586.56 135.5 V465.3 M592.41 135.5 V465.3 M598.25 135.5 V465.3 M604.10 135.5 V465.3 M615.79 135.5 V465.3 M621.64 135.5 V465.3 M627.48 135.5 V465.3 M633.33 135.5 V465.3 M645.02 135.5 V465.3 M650.86 135.5 V465.3 M656.71 135.5 V465.3 M662.55 135.5 V465.3" stroke="#9a9a9a" stroke-opacity=".35" stroke-width="1.25" fill="none"/>
<path d="M346.9 459.80 H668.4 M346.9 454.31 H668.4 M346.9 448.81 H668.4 M346.9 443.31 H668.4 M346.9 432.32 H668.4 M346.9 426.82 H668.4 M346.9 421.33 H668.4 M346.9 415.83 H668.4 M346.9 404.84 H668.4 M346.9 399.34 H668.4 M346.9 393.84 H668.4 M346.9 388.35 H668.4 M346.9 377.35 H668.4 M346.9 371.86 H668.4 M346.9 366.36 H668.4 M346.9 360.86 H668.4 M346.9 349.87 H668.4 M346.9 344.37 H668.4 M346.9 338.88 H668.4 M346.9 333.38 H668.4 M346.9 322.39 H668.4 M346.9 316.89 H668.4 M346.9 311.39 H668.4 M346.9 305.90 H668.4 M346.9 294.90 H668.4 M346.9 289.41 H668.4 M346.9 283.91 H668.4 M346.9 278.41 H668.4 M346.9 267.42 H668.4 M346.9 261.92 H668.4 M346.9 256.43 H668.4 M346.9 250.93 H668.4 M346.9 239.94 H668.4 M346.9 234.44 H668.4 M346.9 228.94 H668.4 M346.9 223.45 H668.4 M346.9 212.45 H668.4 M346.9 206.96 H668.4 M346.9 201.46 H668.4 M346.9 195.96 H668.4 M346.9 184.97 H668.4 M346.9 179.47 H668.4 M346.9 173.98 H668.4 M346.9 168.48 H668.4 M346.9 157.49 H668.4 M346.9 151.99 H668.4 M346.9 146.49 H668.4 M346.9 141.00 H668.4" stroke="#9a9a9a" stroke-opacity=".35" stroke-width="1.25" fill="none"/>
<path d="M376.13 135.5 V465.3 M405.35 135.5 V465.3 M434.58 135.5 V465.3 M463.81 135.5 V465.3 M493.04 135.5 V465.3 M522.26 135.5 V465.3 M551.49 135.5 V465.3 M580.72 135.5 V465.3 M609.95 135.5 V465.3 M639.17 135.5 V465.3 M346.9 437.82 H668.4 M346.9 410.33 H668.4 M346.9 382.85 H668.4 M346.9 355.37 H668.4 M346.9 327.88 H668.4 M346.9 300.40 H668.4 M346.9 272.92 H668.4 M346.9 245.43 H668.4 M346.9 217.95 H668.4 M346.9 190.47 H668.4 M346.9 162.98 H668.4" stroke="#858585" stroke-opacity=".56" stroke-width="1.35" fill="none"/>
<path d="M346.9 135.5 H668.4 V465.3" stroke="#909090" stroke-width="1.2" fill="none"/>
<path d="M346.9 135.5 V465.3 H668.4" stroke="#505050" stroke-width="1.3" fill="none"/>
<path d="M346.9 465.3 L495.4 325.7" stroke="#30c830" stroke-opacity="1" stroke-width="1.3" fill="none"/>
<path d="M495.4 325.7 L600.6 226.7" stroke="#30c830" stroke-opacity="0.38" stroke-width="1.3" fill="none"/>
<path d="M600.6 226.7 L668.4 163.0" stroke="#30c830" stroke-opacity="1" stroke-width="1.3" fill="none"/>
<text x="341" y="443.2" text-anchor="end" class="tk" textLength="10.9" lengthAdjust="spacingAndGlyphs">40</text>
<text x="341" y="415.7" text-anchor="end" class="tk" textLength="10.9" lengthAdjust="spacingAndGlyphs">45</text>
<text x="341" y="388.2" text-anchor="end" class="tk" textLength="10.9" lengthAdjust="spacingAndGlyphs">50</text>
<text x="341" y="360.8" text-anchor="end" class="tk" textLength="10.9" lengthAdjust="spacingAndGlyphs">55</text>
<text x="341" y="333.3" text-anchor="end" class="tk" textLength="10.9" lengthAdjust="spacingAndGlyphs">60</text>
<text x="341" y="305.8" text-anchor="end" class="tk" textLength="10.9" lengthAdjust="spacingAndGlyphs">65</text>
<text x="341" y="278.3" text-anchor="end" class="tk" textLength="10.9" lengthAdjust="spacingAndGlyphs">70</text>
<text x="341" y="250.8" text-anchor="end" class="tk" textLength="10.9" lengthAdjust="spacingAndGlyphs">75</text>
<text x="341" y="223.3" text-anchor="end" class="tk" textLength="10.9" lengthAdjust="spacingAndGlyphs">80</text>
<text x="341" y="195.9" text-anchor="end" class="tk" textLength="10.9" lengthAdjust="spacingAndGlyphs">85</text>
<text x="341" y="168.4" text-anchor="end" class="tk" textLength="10.9" lengthAdjust="spacingAndGlyphs">90</text>
<text x="341" y="140.9" text-anchor="end" class="tk" textLength="10.9" lengthAdjust="spacingAndGlyphs">95</text>
<text x="341" y="471.2" text-anchor="end" class="tk" textLength="10.9" lengthAdjust="spacingAndGlyphs">35</text>
<text x="346.9" y="475.3" text-anchor="middle" class="tk" textLength="10.9" lengthAdjust="spacingAndGlyphs">35</text>
<text x="376.1" y="475.3" text-anchor="middle" class="tk" textLength="10.9" lengthAdjust="spacingAndGlyphs">40</text>
<text x="405.4" y="475.3" text-anchor="middle" class="tk" textLength="10.9" lengthAdjust="spacingAndGlyphs">45</text>
<text x="434.6" y="475.3" text-anchor="middle" class="tk" textLength="10.9" lengthAdjust="spacingAndGlyphs">50</text>
<text x="463.8" y="475.3" text-anchor="middle" class="tk" textLength="10.9" lengthAdjust="spacingAndGlyphs">55</text>
<text x="493.0" y="475.3" text-anchor="middle" class="tk" textLength="10.9" lengthAdjust="spacingAndGlyphs">60</text>
<text x="522.3" y="475.3" text-anchor="middle" class="tk" textLength="10.9" lengthAdjust="spacingAndGlyphs">65</text>
<text x="551.5" y="475.3" text-anchor="middle" class="tk" textLength="10.9" lengthAdjust="spacingAndGlyphs">70</text>
<text x="580.7" y="475.3" text-anchor="middle" class="tk" textLength="10.9" lengthAdjust="spacingAndGlyphs">75</text>
<text x="609.9" y="475.3" text-anchor="middle" class="tk" textLength="10.9" lengthAdjust="spacingAndGlyphs">80</text>
<text x="639.2" y="475.3" text-anchor="middle" class="tk" textLength="10.9" lengthAdjust="spacingAndGlyphs">85</text>
<text x="668.4" y="475.3" text-anchor="middle" class="tk" textLength="10.9" lengthAdjust="spacingAndGlyphs">90</text>
<text x="507.7" y="485" text-anchor="middle" class="ax" textLength="151" lengthAdjust="spacingAndGlyphs">Male life expectancy at birth in years</text>
<text transform="translate(317.7,300.2) rotate(-90)" text-anchor="middle" class="ax" textLength="151.5" lengthAdjust="spacingAndGlyphs">Female life expectancy at birth in years</text>
<text x="609.5" y="141.9" class="lb" fill="#6010d0" stroke="#6010d0" textLength="32.3" lengthAdjust="spacingAndGlyphs">Monaco</text>
<text x="621.5" y="177.4" class="lb" fill="#f01010" stroke="#f01010" textLength="27.4" lengthAdjust="spacingAndGlyphs">Macau</text>
<text x="618.8" y="187.5" class="lb" fill="#f01010" stroke="#f01010" textLength="23" lengthAdjust="spacingAndGlyphs">Japan</text>
<text x="482.8" y="199.5" class="lb" fill="#999999" stroke="#999999" textLength="77.5" lengthAdjust="spacingAndGlyphs">EUROPEAN UNION</text>
<text x="606" y="219.5" class="lb" fill="#2244cc" stroke="#2244cc" textLength="56" lengthAdjust="spacingAndGlyphs">United States</text>
<text x="488.3" y="232.5" class="lb" fill="#7040c8" stroke="#7040c8" textLength="30" lengthAdjust="spacingAndGlyphs">Belarus</text>
<text x="466.4" y="240.5" class="lb" fill="#6010d0" stroke="#6010d0" textLength="31.4" lengthAdjust="spacingAndGlyphs">Ukraine</text>
<text x="450.9" y="248.2" class="lb" fill="#dd22dd" stroke="#dd22dd" textLength="27.2" lengthAdjust="spacingAndGlyphs">Russia</text>
<text x="600" y="241.5" class="lb" fill="#f01010" stroke="#f01010" textLength="24" lengthAdjust="spacingAndGlyphs">China</text>
<text x="582" y="273.6" class="lb" fill="#2277aa" stroke="#2277aa" textLength="44.7" lengthAdjust="spacingAndGlyphs">Montserrat</text>
<text x="558" y="290.5" class="lb" fill="#bf5028" stroke="#bf5028" textLength="20" lengthAdjust="spacingAndGlyphs">India</text>
<text x="579.8" y="297.9" class="lb" fill="#999999" stroke="#999999" textLength="33" lengthAdjust="spacingAndGlyphs">WORLD</text>
<text x="489" y="349.5" class="lb" fill="#000" stroke="#000" textLength="43" lengthAdjust="spacingAndGlyphs">Botswana</text>
<text x="453" y="378.5" class="lb" fill="#000" stroke="#000" textLength="36" lengthAdjust="spacingAndGlyphs">Namibia</text>
<text x="441" y="386.5" class="lb" fill="#000" stroke="#000" textLength="46" lengthAdjust="spacingAndGlyphs">Zimbabwe</text>
<text x="446" y="393.5" class="lb" fill="#000" stroke="#000" textLength="51" lengthAdjust="spacingAndGlyphs">South Africa</text>
<text x="436" y="400.5" class="lb" fill="#000" stroke="#000" textLength="38" lengthAdjust="spacingAndGlyphs">Swaziland</text>
<text x="370" y="390.5" class="lb" fill="#000" stroke="#000" textLength="31" lengthAdjust="spacingAndGlyphs">Nigeria</text>
<text x="413" y="415.5" class="lb" fill="#bf5028" stroke="#bf5028" textLength="50" lengthAdjust="spacingAndGlyphs">Afghanistan</text>
<text x="370" y="445.5" class="lb" fill="#000" stroke="#000" textLength="29" lengthAdjust="spacingAndGlyphs">Angola</text>
<rect x="557.7" y="333.5" width="105" height="126.6" rx="4.5" ry="4.5" fill="#fff" stroke="#444" stroke-width="1"/>
<circle cx="565.9" cy="341.6" r="4.9" fill="url(#lNA)" stroke="#2244cc" stroke-opacity=".38" stroke-width=".8"/>
<circle cx="565.9" cy="341.6" r=".8" fill="#2244cc" fill-opacity=".75"/>
<text x="575.4" y="345.0" class="lg" fill="#2244cc" stroke="#2244cc" textLength="59.5" lengthAdjust="spacingAndGlyphs">North America</text>
<circle cx="565.9" cy="352.6" r="4.9" fill="url(#lCA)" stroke="#3388bb" stroke-opacity=".38" stroke-width=".8"/>
<circle cx="565.9" cy="352.6" r=".8" fill="#3388bb" fill-opacity=".75"/>
<text x="575.4" y="356.0" class="lg" fill="#3388bb" stroke="#3388bb" textLength="66" lengthAdjust="spacingAndGlyphs">Central America</text>
<circle cx="565.9" cy="363.6" r="4.9" fill="url(#lSA)" stroke="#22aa22" stroke-opacity=".38" stroke-width=".8"/>
<circle cx="565.9" cy="363.6" r=".8" fill="#22aa22" fill-opacity=".75"/>
<text x="575.4" y="367.0" class="lg" fill="#22aa22" stroke="#22aa22" textLength="60.5" lengthAdjust="spacingAndGlyphs">South America</text>
<circle cx="565.9" cy="374.7" r="4.9" fill="url(#lEU)" stroke="#7a2fe0" stroke-opacity=".38" stroke-width=".8"/>
<circle cx="565.9" cy="374.7" r=".8" fill="#7a2fe0" fill-opacity=".75"/>
<text x="575.4" y="378.1" class="lg" fill="#7a2fe0" stroke="#7a2fe0" textLength="29" lengthAdjust="spacingAndGlyphs">Europe</text>
<circle cx="565.9" cy="385.7" r="4.9" fill="url(#lAF)" stroke="#000000" stroke-opacity=".38" stroke-width=".8"/>
<circle cx="565.9" cy="385.7" r=".8" fill="#000000" fill-opacity=".75"/>
<text x="575.4" y="389.1" class="lg" fill="#000000" stroke="#000000" textLength="23.5" lengthAdjust="spacingAndGlyphs">Africa</text>
<circle cx="565.9" cy="396.7" r="4.9" fill="url(#lME)" stroke="#ddaa33" stroke-opacity=".38" stroke-width=".8"/>
<circle cx="565.9" cy="396.7" r=".8" fill="#ddaa33" fill-opacity=".75"/>
<text x="575.4" y="400.1" class="lg" fill="#ddaa33" stroke="#ddaa33" textLength="47.5" lengthAdjust="spacingAndGlyphs">Middle East</text>
<circle cx="565.9" cy="407.7" r="4.9" fill="url(#lCS)" stroke="#dd22dd" stroke-opacity=".38" stroke-width=".8"/>
<circle cx="565.9" cy="407.7" r=".8" fill="#dd22dd" fill-opacity=".75"/>
<text x="575.4" y="411.1" class="lg" fill="#dd22dd" stroke="#dd22dd" textLength="50" lengthAdjust="spacingAndGlyphs">Central Asia</text>
<circle cx="565.9" cy="418.7" r="4.9" fill="url(#lSS)" stroke="#b55a30" stroke-opacity=".38" stroke-width=".8"/>
<circle cx="565.9" cy="418.7" r=".8" fill="#b55a30" fill-opacity=".75"/>
<text x="575.4" y="422.1" class="lg" fill="#b55a30" stroke="#b55a30" textLength="44" lengthAdjust="spacingAndGlyphs">South Asia</text>
<circle cx="565.9" cy="429.8" r="4.9" fill="url(#lEA)" stroke="#f01010" stroke-opacity=".38" stroke-width=".8"/>
<circle cx="565.9" cy="429.8" r=".8" fill="#f01010" fill-opacity=".75"/>
<text x="575.4" y="433.2" class="lg" fill="#f01010" stroke="#f01010" textLength="82" lengthAdjust="spacingAndGlyphs">East/Southeast Asia</text>
<circle cx="565.9" cy="440.8" r="4.9" fill="url(#lOC)" stroke="#2222ee" stroke-opacity=".38" stroke-width=".8"/>
<circle cx="565.9" cy="440.8" r=".8" fill="#2222ee" fill-opacity=".75"/>
<text x="575.4" y="444.2" class="lg" fill="#2222ee" stroke="#2222ee" textLength="72" lengthAdjust="spacingAndGlyphs">Australia/Oceania</text>
<circle cx="565.9" cy="451.8" r="4.9" fill="url(#lOT)" stroke="#aaaaaa" stroke-opacity=".38" stroke-width=".8"/>
<circle cx="565.9" cy="451.8" r=".8" fill="#aaaaaa" fill-opacity=".75"/>
<text x="575.4" y="455.2" class="lg" fill="#aaaaaa" stroke="#aaaaaa" textLength="23.5" lengthAdjust="spacingAndGlyphs">Other</text>
</svg>
<div class="cap" style="top:490.2px">Comparison of male and female life expectancy at birth for countries and territories as</div>
<div class="cap" style="top:504.55px">defined in the 2011 CIA Factbook, with selected bubbles labelled. The green dotted line</div>
<div class="cap" style="top:518.9px">corresponds to equal female and male life expectancy. The apparent 3D volumes of the</div>
<div class="cap" style="top:533.3px">bubbles are linearly proportional to their population.</div>

<div class="l" style="top:123.00px;left:80.8px;word-spacing:4.889px;">The word "<b>longevity</b>" is sometimes</div>
<div class="l" style="top:141.00px;left:80.8px;word-spacing:12.489px;">used as a synonym for "life</div>
<div class="l" style="top:159.00px;left:80.8px;word-spacing:0.358px;">expectancy" in demography - however,</div>
<div class="l" style="top:178.00px;left:80.8px;word-spacing:7.045px;">the term "longevity" is sometimes</div>
<div class="l" style="top:196.00px;left:80.8px;word-spacing:1.801px;">meant to refer only to especially long</div>
<div class="l" style="top:214.00px;left:80.8px;word-spacing:10.663px;">lived members of a population,</div>
<div class="l" style="top:233.00px;left:80.8px;word-spacing:4.553px;">whereas "life expectancy" is always</div>
<div class="l" style="top:251.00px;left:80.8px;word-spacing:6.647px;">defined statistically as the average</div>
<div class="l" style="top:269.00px;left:80.8px;word-spacing:1.804px;">number of years remaining at a given</div>
<div class="l" style="top:287.00px;left:80.8px;word-spacing:3.199px;">age. For example, a population's life</div>
<div class="l" style="top:306.00px;left:80.8px;word-spacing:1.700px;">expectancy at birth is the same as the</div>
<div class="l" style="top:324.00px;left:80.8px;word-spacing:-0.034px;">average age at death for all people born</div>
<div class="l" style="top:342.00px;left:80.8px;word-spacing:6.200px;">in the same year (in the case of</div>
<div class="l" style="top:360.00px;left:80.8px;word-spacing:1.868px;">cohorts). Longevity is best thought of</div>
<div class="l" style="top:379.00px;left:80.8px;word-spacing:8.683px;">as a term for general audiences</div>
<div class="l" style="top:397.00px;left:80.8px;word-spacing:4.883px;">meaning 'typical length of life' and</div>
<div class="l" style="top:415.00px;left:80.8px;word-spacing:0.014px;">specific statistical definitions should be</div>
<div class="l" style="top:433.00px;left:80.8px;">clarified when necessary.</div>
<div class="l" style="top:464.00px;left:80.8px;word-spacing:2.159px;">Reflections on longevity have usually</div>
<div class="l" style="top:482.00px;left:80.8px;word-spacing:12.071px;">gone beyond acknowledging the</div>
<div class="l" style="top:500.00px;left:80.8px;word-spacing:8.964px;">brevity of human life and have</div>
<div class="l" style="top:518.00px;left:80.8px;word-spacing:5.198px;">included thinking about methods to</div>
<div class="l" style="top:537.00px;left:80.8px;word-spacing:0.548px;">extend life. Longevity has been a topic</div>
<div class="l" style="top:555.00px;left:80.8px;word-spacing:2.230px;">not only for the scientific community</div>
<div class="l" style="top:573.00px;left:80.8px;">but also for writers of travel, science fiction, and utopian novels.</div>
<div class="l" style="top:598.00px;left:80.8px;word-spacing:1.988px;">There are many difficulties in authenticating the longest human life span ever by modern verification standards,</div>
<div class="l" style="top:616.00px;left:80.8px;word-spacing:0.840px;">owing to inaccurate or incomplete birth statistics. Fiction, legend, and folklore have proposed or claimed life spans</div>
<div class="l" style="top:634.00px;left:80.8px;word-spacing:0.939px;">in the past or future vastly longer than those verified by modern standards, and longevity narratives and unverified</div>
<div class="l" style="top:652.00px;left:80.8px;">longevity claims frequently speak of their existence in the present.</div>
<div class="l" style="top:677.00px;left:80.8px;">A life annuity is a form of longevity insurance.</div>
<div class="l" style="top:741.00px;left:80.8px;word-spacing:1.030px;">A remarkable statement mentioned by Diogenes Laertius (c. 250 AD) is the earliest (or at least one of the earliest)</div>
<div class="l" style="top:759.00px;left:80.8px;word-spacing:0.730px;">references about <i>plausible</i> centenarian longevity given by a scientist, the astronomer Hipparchus of Nicea (c. 185 –</div>
<div class="l" style="top:777.00px;left:80.8px;word-spacing:0.530px;">c. 120 BC), who, according to the doxographer, was <i>assured</i> that the philosopher Democritus of Abdera (c. 470/460</div>
<div class="l" style="top:795.00px;left:80.8px;word-spacing:1.733px;">– c. 370/360 BC) lived 109 years. All other accounts given by the ancients about the age of Democritus appear,</div>
<div class="l" style="top:814.00px;left:80.8px;word-spacing:1.003px;">without giving any specific age, to agree that the philosopher lived over 100 years. This possibility is likely, given</div>
<div class="l" style="top:832.00px;left:80.8px;word-spacing:0.162px;">that many ancient Greek philosophers are thought to have lived over the age of 90 (e.g., Xenophanes of Colophon, c.</div>
<div class="l" style="top:850.00px;left:80.8px;word-spacing:0.373px;">570/565 – c. 475/470 BC, Pyrrho of Ellis, c. 360 – c. 270 BC, Eratosthenes of Cirene, c. 285 – c. 190 BC, etc.). The</div>
<div class="l" style="top:868.00px;left:80.8px;word-spacing:0.947px;">case of Democritus is different from the case of, for example, Epimenides of Crete (7th, 6th centuries BC), who is</div>
<div class="l" style="top:887.00px;left:80.8px;word-spacing:1.220px;">said to have lived 154, 157 or 290 years, as has been said about countless elders even during the last centuries as</div>
<div class="l" style="top:905.00px;left:80.8px;">well as in the present time.</div>

<h2>History</h2>
</body></html>
